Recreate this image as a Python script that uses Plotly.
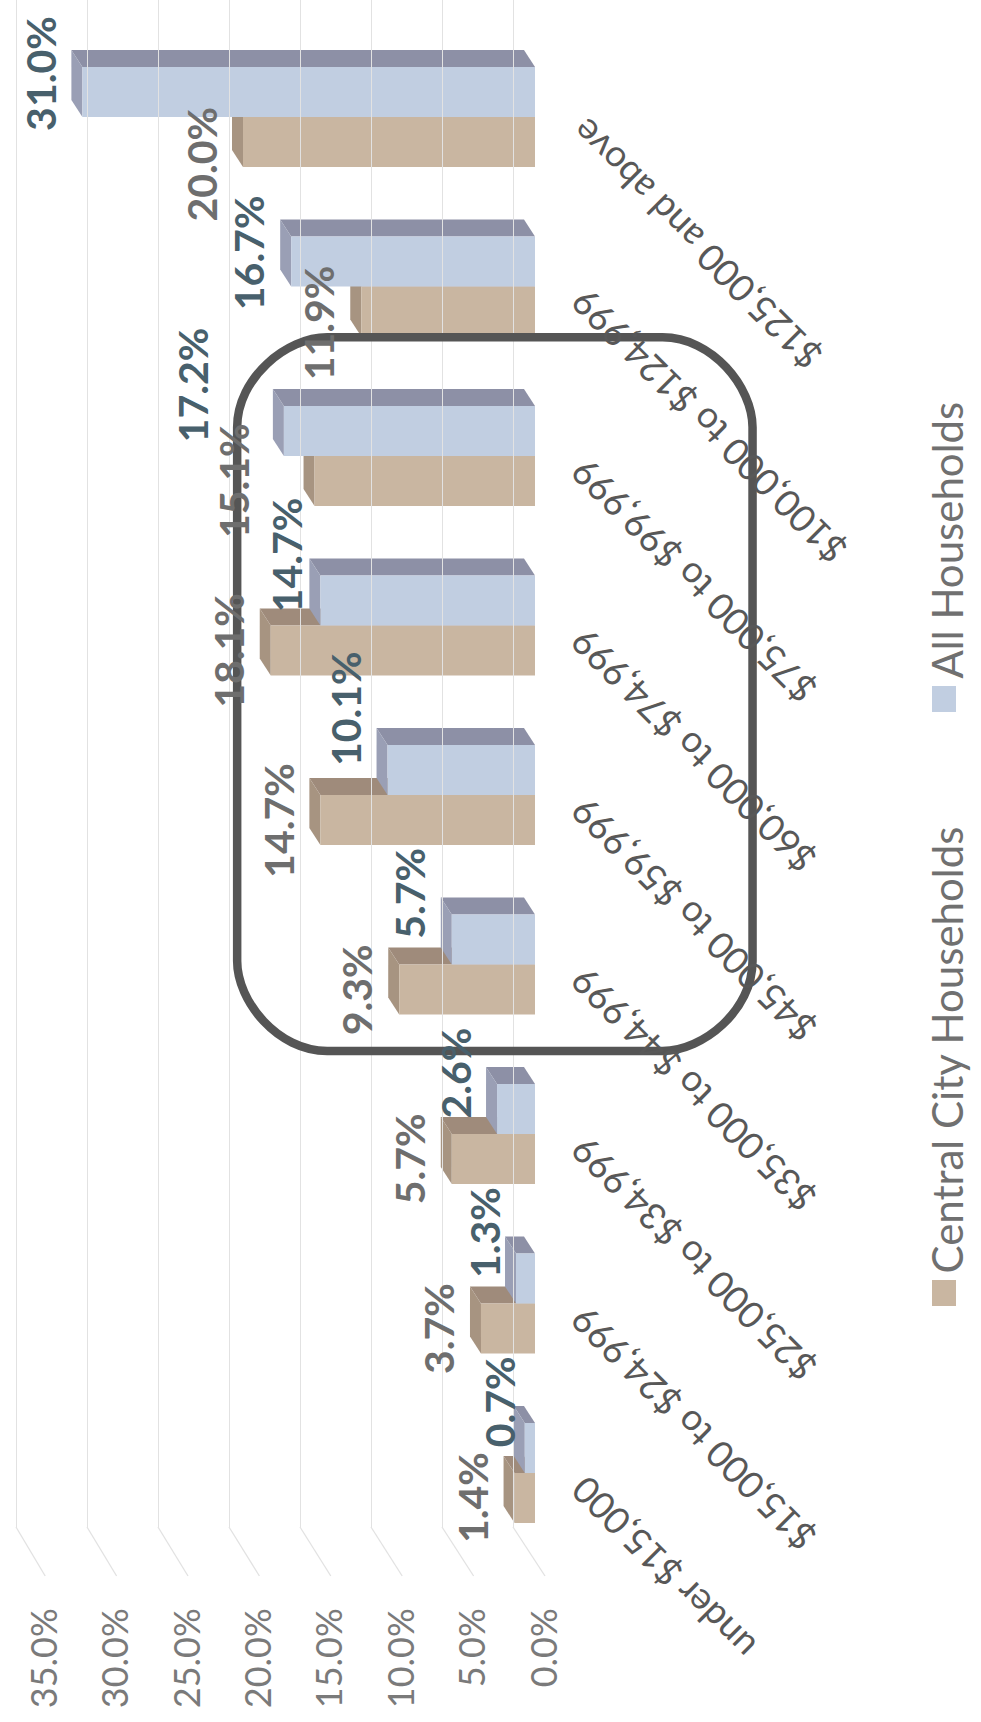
import plotly.graph_objects as go

# ---------------- data ----------------
categories = ["under $15,000", "$15,000 to $24,999", "$25,000 to $34,999",
              "$35,000 to $44,999", "$45,000 to $59,999", "$60,000 to $74,999",
              "$75,000 to $99,999", "$100,000 to $124,999", "$125,000 and above"]
central_city = [1.4, 3.7, 5.7, 9.3, 14.7, 18.1, 15.1, 11.9, 20.0]
all_households = [0.7, 1.3, 2.6, 5.7, 10.1, 14.7, 17.2, 16.7, 31.0]
series_names = ["Central City Households", "All Households"]
value_ticks = [0, 5, 10, 15, 20, 25, 30, 35]
value_tick_labels = ["0.0%", "5.0%", "10.0%", "15.0%", "20.0%", "25.0%", "30.0%", "35.0%"]

# ---------------- geometry / style ----------------
W, H = 981, 1722
PLOT_H = 1600                     # plot area height in px (bottom margin holds tick labels)
X0_PX, X_SCALE = 535, 14.6        # bar plane: value 0 at px, px per %
Y0_PX, Y_SCALE = 1473, 169.5      # category 0 boundary at px, px per category
X2_0, X2_SCALE = 545, 14.28       # front floor edge (tick labels)
X3_0, X3_SCALE = 513, 14.2        # back wall (gridlines)
WALL_BOTTOM, FLOOR_FRONT = 1527, 1576
BAR_T = 50 / Y_SCALE
DEPTH_X, DEPTH_Y = 11 / X_SCALE, 17 / Y_SCALE

TAN, TAN_TOP, TAN_END = "#c9b6a1", "#9f8b7b", "#a79481"
BLU, BLU_TOP, BLU_END = "#c1cee1", "#8d90a6", "#9a9fb5"
TAN_LBL, BLU_LBL = "#6e6e6e", "#48606c"
FONT = "Lato"

def rng(x0, s):
    return [x0 / s, -(W - x0) / s]

def py(p):  # px -> paper y
    return (PLOT_H - p) / PLOT_H

fig = go.Figure()

idx = list(range(len(categories)))
fig.add_trace(go.Bar(orientation="h", x=central_city, y=idx, base=0, width=BAR_T, offset=-BAR_T,
                     marker=dict(color=TAN, line=dict(width=0)), name=series_names[0],
                     showlegend=False, hoverinfo="x+name"))
fig.add_trace(go.Bar(orientation="h", x=all_households, y=idx, base=0, width=BAR_T, offset=0,
                     marker=dict(color=BLU, line=dict(width=0)), name=series_names[1],
                     showlegend=False, hoverinfo="x+name"))
# helper empty traces so the extra axes exist
fig.add_trace(go.Scatter(x=[], y=[], xaxis="x2", yaxis="y", showlegend=False))
fig.add_trace(go.Scatter(x=[], y=[], xaxis="x3", yaxis="y3", showlegend=False))

shapes = []
def poly(pts, color):
    d = "M " + " L ".join(f"{a},{b}" for a, b in pts) + " Z"
    return dict(type="path", path=d, xref="x", yref="y", fillcolor=color,
                line=dict(width=0), layer="between")

for vals, lo, top_c, end_c in [(central_city, -BAR_T, TAN_TOP, TAN_END),
                               (all_households, 0, BLU_TOP, BLU_END)]:
    for i, v in enumerate(vals):
        y0, y1 = i + lo, i + lo + BAR_T
        shapes.append(poly([(0, y1), (v, y1), (v + DEPTH_X, y1 + DEPTH_Y), (DEPTH_X, y1 + DEPTH_Y)], top_c))
        shapes.append(poly([(v, y0), (v, y1), (v + DEPTH_X, y1 + DEPTH_Y), (v + DEPTH_X, y0 + DEPTH_Y)], end_c))

# floor diagonals from back wall to front edge
for v in value_ticks:
    back = X3_0 - X3_SCALE * v
    front = X2_0 - X2_SCALE * v
    shapes.append(dict(type="line", xref="x3", xsizemode="pixel", xanchor=v, x0=0, x1=front - back,
                       yref="paper", y0=py(WALL_BOTTOM), y1=py(FLOOR_FRONT),
                       line=dict(color="#e2e2e2", width=1.3), layer="below"))

# highlight box (rounded rectangle) around $35,000 - $99,999
L, R, T, B = 20.4, -14.9, 6.70, 2.49
rx, ry = 90 / X_SCALE, 90 / Y_SCALE
k = 0.45
box = (f"M {L - rx},{T} L {R + rx},{T} "
       f"C {R + rx * k},{T} {R},{T - ry * (1 - k)} {R},{T - ry} "
       f"L {R},{B + ry} "
       f"C {R},{B + ry * k} {R + rx * (1 - k)},{B} {R + rx},{B} "
       f"L {L - rx},{B} "
       f"C {L - rx * k},{B} {L},{B + ry * (1 - k)} {L},{B + ry} "
       f"L {L},{T - ry} "
       f"C {L},{T - ry * k} {L - rx * (1 - k)},{T} {L - rx},{T} Z")
shapes.append(dict(type="path", path=box, xref="x", yref="y",
                   line=dict(color="#555555", width=8.5), layer="above"))

# legend squares
for (y_top, y_bot), c in [((1280, 1306), TAN), ((686, 712), BLU)]:
    shapes.append(dict(type="rect", xref="paper", yref="paper", x0=932 / W, x1=956 / W,
                       y0=py(y_bot), y1=py(y_top), fillcolor=c, line=dict(width=0)))

annotations = []
# category labels
for i, c in enumerate(categories):
    annotations.append(dict(text=c, x=0, y=i, xref="x", yref="y", xshift=24, yshift=9,
                            xanchor="left", yanchor="top", textangle=-135, showarrow=False,
                            font=dict(family=FONT, size=37, color="#585858")))

# value labels (extra nudges in px where the original labels were moved)
tan_dy = {8: -22, 7: -11}
tan_dx = {6: -39}
blu_dy = {8: -27, 7: -37, 4: 15, 2: -10}
blu_dx = {6: -49, 5: 9, 1: 11, 0: 17}
GAP = 16
for i, v in enumerate(central_city):
    annotations.append(dict(text=f"<b>{v:.1f}%</b>", x=v, y=i - BAR_T / 2, xref="x", yref="y",
                            xanchor="right", yanchor="middle", xshift=-GAP + tan_dx.get(i, 0),
                            yshift=tan_dy.get(i, 0), textangle=-90, showarrow=False,
                            font=dict(family=FONT, size=41, color=TAN_LBL)))
for i, v in enumerate(all_households):
    annotations.append(dict(text=f"<b>{v:.1f}%</b>", x=v, y=i + BAR_T / 2, xref="x", yref="y",
                            xanchor="right", yanchor="middle", xshift=-GAP + blu_dx.get(i, 0),
                            yshift=46 + blu_dy.get(i, 0), textangle=-90, showarrow=False,
                            font=dict(family=FONT, size=41, color=BLU_LBL)))

# legend texts
for name, y_start in [(series_names[0], 1276), (series_names[1], 681)]:
    annotations.append(dict(text=name, x=946 / W, y=py(y_start), xref="paper", yref="paper",
                            xanchor="center", yanchor="bottom", textangle=-90, showarrow=False,
                            font=dict(family=FONT, size=42, color="#707070")))

fig.update_layout(
    width=W, height=H, margin=dict(l=0, r=0, t=0, b=H - PLOT_H, pad=0),
    paper_bgcolor="white", plot_bgcolor="rgba(0,0,0,0)",
    barmode="overlay", showlegend=False,
    xaxis=dict(range=rng(X0_PX, X_SCALE), visible=False, fixedrange=True),
    yaxis=dict(range=[(Y0_PX - PLOT_H) / Y_SCALE, Y0_PX / Y_SCALE], visible=False),
    xaxis2=dict(range=rng(X2_0, X2_SCALE), overlaying="x", anchor="y", side="bottom",
                tickvals=value_ticks, ticktext=value_tick_labels, tickangle=-90,
                tickfont=dict(family=FONT, size=36, color="#7a7a7a"),
                showgrid=False, zeroline=False, showline=False, ticks=""),
    xaxis3=dict(range=rng(X3_0, X3_SCALE), anchor="y3", overlaying="x",
                tickvals=value_ticks, showticklabels=False, showgrid=True,
                gridcolor="#e2e2e2", gridwidth=1.3, zeroline=False, showline=False, ticks=""),
    yaxis3=dict(domain=[py(WALL_BOTTOM), 1], range=[0, 1], visible=False),
    shapes=shapes, annotations=annotations,
)

fig.write_html("out.html")
